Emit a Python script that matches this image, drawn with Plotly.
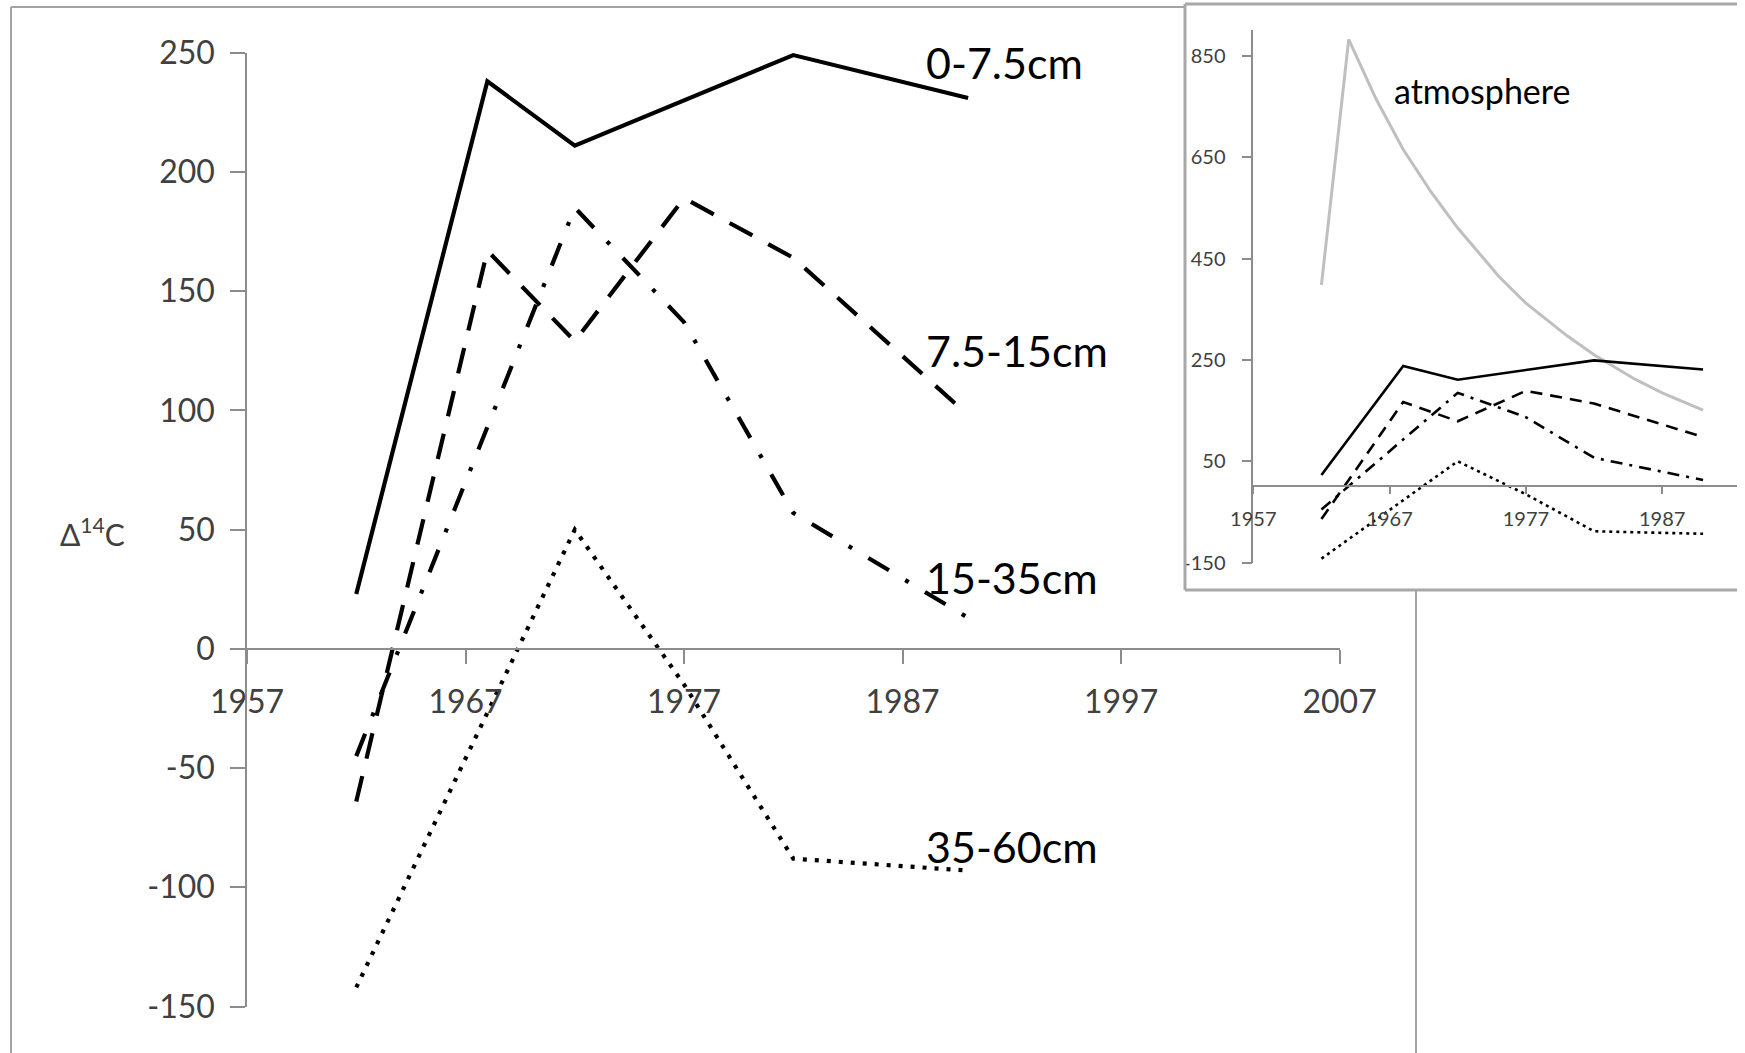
import plotly.graph_objects as go

# Soil Δ14C by depth, sampling years
years = [1962, 1968, 1972, 1977, 1982, 1990]
depth_0_7_5 = [23, 238, 211, None, 249, 231]
depth_7_5_15 = [-64, 167, 129, 189, 164, 98]
depth_15_35 = [-45, None, 185, 137, 57, 13]
depth_35_60 = [-142, None, 50, -15, -88, -93]

# Atmospheric Δ14C (bomb curve)
atm_years = [1962, 1964, 1966, 1968, 1970, 1972, 1974, 1975, 1977, 1980, 1982, 1985, 1987, 1990]
atm_values = [398, 882, 765, 665, 583, 510, 447, 415, 362, 298, 260, 212, 185, 151]

main_xticks = [1957, 1967, 1977, 1987, 1997, 2007]
main_yticks = [-150, -100, -50, 0, 50, 100, 150, 200, 250]
inset_xticks = [1957, 1967, 1977, 1987]
inset_yticks = [-150, 50, 250, 450, 650, 850]

series = [
    ("0-7.5cm", depth_0_7_5, "solid", "solid"),
    ("7.5-15cm", depth_7_5_15, "26px,18px", "12px,8px"),
    ("15-35cm", depth_15_35, "24px,19px,4px,19px", "12px,7px,3px,7px"),
    ("35-60cm", depth_35_60, "4px,8px", "3px,4px"),
]

W, H = 1745, 1053
FONT = "Lato"
AXIS_GRAY = "#8c8c8c"
TEXT_GRAY = "#404040"


def px_x(v):
    return v / W


def px_y(v):
    return 1 - v / H


fig = go.Figure()

for name, vals, dash_main, dash_inset in series:
    fig.add_trace(go.Scatter(x=years, y=vals, mode="lines", name=name,
                             connectgaps=True,
                             line=dict(color="black", width=4.2, dash=dash_main),
                             xaxis="x", yaxis="y"))

fig.add_trace(go.Scatter(x=atm_years, y=atm_values, mode="lines", name="atmosphere",
                         line=dict(color="#bfbfbf", width=3),
                         xaxis="x2", yaxis="y2"))
for name, vals, dash_main, dash_inset in series:
    fig.add_trace(go.Scatter(x=years, y=vals, mode="lines", name=name + " (inset)",
                             connectgaps=True,
                             line=dict(color="black", width=2.6, dash=dash_inset),
                             xaxis="x2", yaxis="y2"))


def hyphen(v):
    return str(v).replace("−", "-")


axis_common = dict(showline=True, linecolor=AXIS_GRAY, linewidth=1.5,
                   ticks="outside", tickcolor=AXIS_GRAY, tickwidth=1.5,
                   showgrid=False, zeroline=False, automargin=False)

fig.update_layout(
    width=W, height=H,
    margin=dict(l=0, r=0, t=0, b=0),
    paper_bgcolor="white", plot_bgcolor="rgba(0,0,0,0)",
    showlegend=False,
    xaxis=dict(domain=[px_x(247), px_x(1339.6)], range=[1957, 2007],
               anchor="free", position=px_y(648.8),
               tickvals=main_xticks, ticktext=[str(t) for t in main_xticks],
               ticklen=14, ticklabelstandoff=11,
               tickfont=dict(family=FONT, size=32, color=TEXT_GRAY), **axis_common),
    yaxis=dict(domain=[px_y(1006.5), px_y(52.7)], range=[-150, 250], anchor="x",
               tickvals=main_yticks, ticktext=[hyphen(t) for t in main_yticks],
               ticklen=15, ticklabelstandoff=9,
               tickfont=dict(family=FONT, size=32, color=TEXT_GRAY), **axis_common),
    xaxis2=dict(domain=[px_x(1253.3), px_x(1737)], range=[1957, 1992.49],
                anchor="free", position=px_y(486.4),
                tickvals=inset_xticks, ticktext=[str(t) for t in inset_xticks],
                ticklen=7, ticklabelstandoff=8,
                tickfont=dict(family=FONT, size=20, color=TEXT_GRAY), **axis_common),
    yaxis2=dict(domain=[px_y(562.7), px_y(30.35)], range=[-150, 900], anchor="x2",
                tickvals=inset_yticks, ticktext=[hyphen(t) for t in inset_yticks],
                ticklen=10, ticklabelstandoff=12,
                tickfont=dict(family=FONT, size=20, color=TEXT_GRAY), **axis_common),
)

border = dict(color="#a3a3a3", width=2)
inset_border = dict(color="#a8a8a8", width=3)
shapes = [
    # outer frame of the main chart
    dict(type="line", xref="paper", yref="paper", x0=px_x(11), x1=px_x(1185), y0=px_y(7), y1=px_y(7), line=border),
    dict(type="line", xref="paper", yref="paper", x0=px_x(11), x1=px_x(11), y0=px_y(7), y1=0, line=border),
    dict(type="line", xref="paper", yref="paper", x0=px_x(1416), x1=px_x(1416), y0=px_y(590), y1=0, line=border),
    # frame of the inset
    dict(type="line", xref="paper", yref="paper", x0=px_x(1185), x1=px_x(1737), y0=px_y(4), y1=px_y(4), line=inset_border),
    dict(type="line", xref="paper", yref="paper", x0=px_x(1185), x1=px_x(1185), y0=px_y(4), y1=px_y(590), line=inset_border),
    dict(type="line", xref="paper", yref="paper", x0=px_x(1185), x1=px_x(1737), y0=px_y(590), y1=px_y(590), line=inset_border),
]
fig.update_layout(shapes=shapes)

label_x = 1988.0
labels = [("0-7.5cm", 246), ("7.5-15cm", 125), ("15-35cm", 30), ("35-60cm", -83)]
for text, yv in labels:
    fig.add_annotation(x=label_x, y=yv, xref="x", yref="y", text=text,
                       showarrow=False, xanchor="left", yanchor="middle",
                       font=dict(family=FONT, size=43, color="black"))

fig.add_annotation(x=1967.15, y=782, xref="x2", yref="y2", text="atmosphere",
                   showarrow=False, xanchor="left", yanchor="middle",
                   font=dict(family=FONT, size=34, color="black"))

fig.add_annotation(x=px_x(58), y=px_y(532), xref="paper", yref="paper",
                   text="Δ<sup>14</sup>C", showarrow=False,
                   xanchor="left", yanchor="middle",
                   font=dict(family=FONT, size=30, color=TEXT_GRAY))

fig.write_html("out.html", post_script="document.body.style.margin='0';")
